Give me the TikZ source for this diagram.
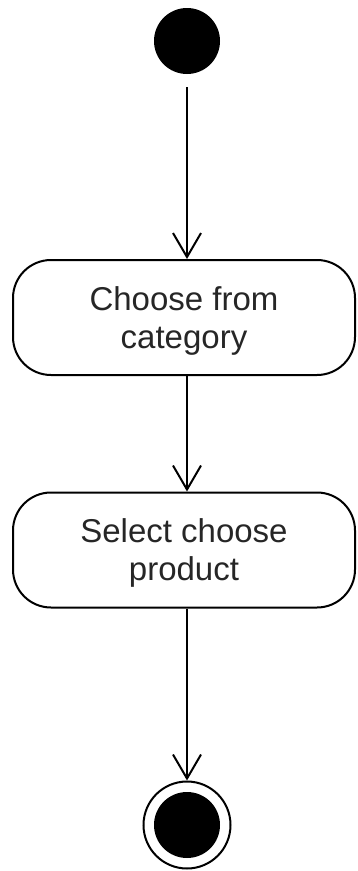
\documentclass[tikz,border=0pt]{standalone}
\usepackage{fontspec}
\setmainfont{Liberation Sans}
\usetikzlibrary{arrows.meta}
\begin{document}
\begin{tikzpicture}[x=1pt,y=-1pt,
  line width=2pt,
  action/.style={draw, rounded corners=38pt, minimum width=342pt, minimum height=115pt,
    align=center, font=\fontsize{33}{38}\selectfont, text=black!85, inner sep=0pt,
    text height=61pt, text depth=0pt},
  initial/.style={circle, fill=black, minimum size=66pt, inner sep=0pt},
  final/.style={circle, draw, line width=2pt, minimum size=87pt, inner sep=0pt},
  flow/.style={-{Straight Barb[length=24pt, width=28pt, line width=2pt]}}]
  \useasboundingbox (0,0) rectangle (358,871);
  % initial node
  \node[initial] (start) at (187,41) {};
  % action states
  \node[action] (cat) at (184,317.5) {Choose from\\category};
  \node[action] (prod) at (184,550) {Select choose\\product};
  % final node
  \node[final] (stop) at (187,825) {};
  \fill (stop.center) circle (33pt);
  % transitions
  \draw[flow, shorten <=12pt] (start) -- (start |- cat.north);
  \draw[flow] (cat.south -| start) -- (prod.north -| start);
  \draw[flow] (prod.south -| start) -- (stop.north);
\end{tikzpicture}
\end{document}
